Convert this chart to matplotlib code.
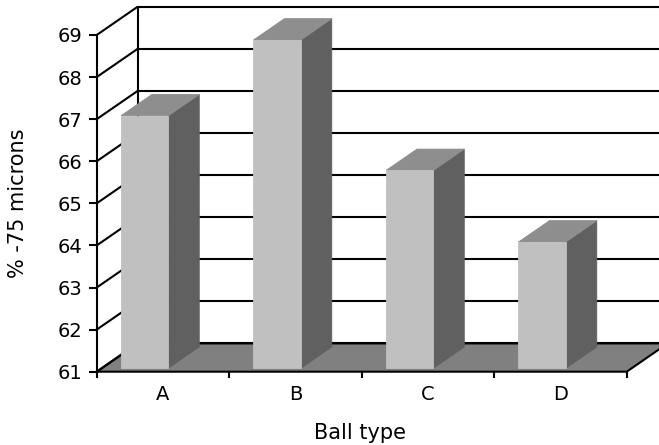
import matplotlib
matplotlib.use("Agg")
import matplotlib.pyplot as plt
from matplotlib.patches import Polygon

# Data
ball_types = ["A", "B", "C", "D"]
fines_pct = [67.0, 68.8, 65.7, 64.0]
y_ticks = [61, 62, 63, 64, 65, 66, 67, 68, 69]
x_title = "Ball type"
y_title = "% -75 microns"

# Oblique "3-D" projection: depth offset in data units
y_min, y_max = 61, 69
n = len(ball_types)
DX = 41 / 132.5      # x shift of the back wall (category units)
DY = 28.3 / 42.09    # y shift of the back wall (value units)

# Bar footprint (category units / depth fractions)
bar_left = 0.146
bar_w = 0.357
t0, t1 = 0.12, 0.876

front_c = "#C0C0C0"
side_c = "#606060"
top_c = "#8E8E8E"
floor_c = "#808080"
lw = 1.5

fig = plt.figure(figsize=(6.59, 4.45), dpi=100)
ax = fig.add_axes([96.7 / 659, 73.3 / 445, 530 / 659, 336.7 / 445])
ax.set_xlim(0, n)
ax.set_ylim(y_min, y_max)
for s in ax.spines.values():
    s.set_visible(False)
ax.patch.set_visible(False)

# Floor
floor = Polygon([(0, y_min), (n, y_min), (n + DX, y_min + DY), (DX, y_min + DY)],
                closed=True, facecolor=floor_c, edgecolor="black", lw=lw,
                clip_on=False, zorder=1, joinstyle="miter")
ax.add_patch(floor)

# Walls: back-wall gridlines and left-wall diagonals
for v in y_ticks:
    ax.plot([DX, n + DX], [v + DY, v + DY], color="black", lw=lw,
            clip_on=False, zorder=2, solid_capstyle="butt")
    ax.plot([0, DX], [v, v + DY], color="black", lw=lw,
            clip_on=False, zorder=2, solid_capstyle="butt")
ax.plot([DX, DX], [y_min + DY, y_max + DY], color="black", lw=lw,
        clip_on=False, zorder=2)
ax.plot([0, 0], [y_min, y_max], color="black", lw=lw, clip_on=False, zorder=2)

# Bars
for i, v in enumerate(fines_pct):
    xl = i + bar_left
    xr = xl + bar_w
    front = [(xl + t0 * DX, y_min + t0 * DY), (xr + t0 * DX, y_min + t0 * DY),
             (xr + t0 * DX, v + t0 * DY), (xl + t0 * DX, v + t0 * DY)]
    side = [(xr + t0 * DX, y_min + t0 * DY), (xr + t1 * DX, y_min + t1 * DY),
            (xr + t1 * DX, v + t1 * DY), (xr + t0 * DX, v + t0 * DY)]
    top = [(xl + t0 * DX, v + t0 * DY), (xr + t0 * DX, v + t0 * DY),
           (xr + t1 * DX, v + t1 * DY), (xl + t1 * DX, v + t1 * DY)]
    for pts, c in ((side, side_c), (top, top_c), (front, front_c)):
        ax.add_patch(Polygon(pts, closed=True, facecolor=c, edgecolor=c,
                             lw=0.6, clip_on=False, zorder=3))

# Axes ticks
ax.set_yticks(y_ticks)
ax.set_yticklabels([str(t) for t in y_ticks])
ax.tick_params(axis="y", direction="out", length=6, width=lw, pad=4.5,
               labelsize=14)
ax.set_xticks(range(n + 1))
ax.set_xticklabels([])
ax.set_xticks([i + 0.5 for i in range(n)], minor=True)
ax.set_xticklabels(ball_types, minor=True)
ax.tick_params(axis="x", which="major", direction="out", length=4.5, width=lw)
ax.tick_params(axis="x", which="minor", length=0, pad=9.5, labelsize=14)

fig.text(0.546, 6 / 445, x_title, ha="center", va="baseline", fontsize=15)
fig.text(18 / 659, 1 - 203 / 445, y_title, ha="center", va="center",
         rotation=90, fontsize=15)

fig.savefig("out.png", dpi=100)
